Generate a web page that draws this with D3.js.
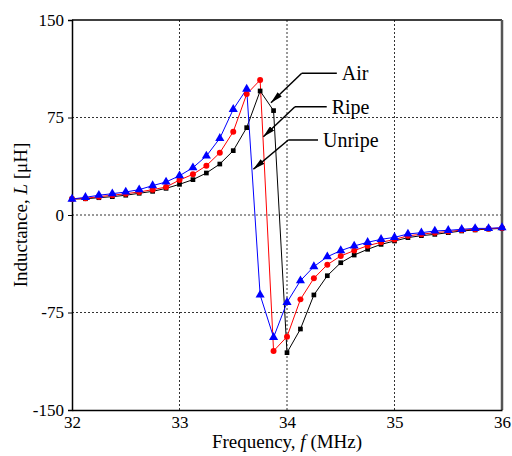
<!DOCTYPE html>
<html><head><meta charset="utf-8">
<script src="https://cdn.jsdelivr.net/npm/d3@7"></script>
<style>body{margin:0;background:#fff}svg{display:block}</style>
</head><body>
<svg id="c" width="512" height="456"></svg>
<script>
const freq = [32,32.125,32.25,32.375,32.5,32.625,32.75,32.875,33,33.125,33.25,33.375,33.5,33.625,33.75,33.875,34,34.125,34.25,34.375,34.5,34.625,34.75,34.875,35,35.125,35.25,35.375,35.5,35.625,35.75,35.875,36];
const air = [12.3,12.5,13.3,14.1,15.2,16.7,18.2,20.5,23.6,27.2,32.3,39.2,49.5,67.2,95.4,80.3,-105.9,-87.7,-61.5,-46.7,-36.7,-30.8,-26.4,-22.6,-20.0,-17.4,-15.9,-14.9,-13.6,-12.3,-11.5,-10.8,-10.3];
const ripe = [12.3,12.8,14.1,15.2,16.4,17.7,19.5,21.5,26.9,31.3,37.9,47.9,64.1,93.0,103.8,-104.6,-93.6,-64.9,-48.7,-38.2,-31.5,-27.4,-23.6,-21.0,-18.8,-16.0,-14.8,-13.6,-12.7,-11.6,-10.9,-10.5,-10.0];
const unripe = [12.3,13.6,15.2,16.4,17.7,19.5,22.6,25.4,30.2,36.4,45.4,59.0,81.3,96.9,-61.5,-94.1,-67.2,-50.5,-39.7,-32.1,-27.4,-23.8,-21.0,-18.7,-17.2,-14.6,-13.6,-12.3,-11.8,-11.0,-10.3,-10.3,-9.7];
const xTicks = [32,33,34,35,36];
const yTicks = [-150,-75,0,75,150];
const seriesNames = ["Air","Ripe","Unripe"];
// annotation anchors in data units
const annoTextX = [34.51,34.416,34.335];
const annoLineY = [109,83.3,57.7];
const annoLineStartX = [34.137,34.074,34.012];
const annoTipX = [33.851,33.78,33.687];
const annoTipY = [86.4,60.2,35.2];

const svg = d3.select("#c");
const m = {l:72,r:502,t:20,b:410};
const x = d3.scaleLinear().domain([32,36]).range([m.l,m.r]);
const y = d3.scaleLinear().domain([-150,150]).range([m.b,m.t]);
const font = "Liberation Serif, Times New Roman, serif";

// grid
const g = svg.append("g");
g.selectAll("line.gx").data(xTicks.slice(1,-1)).enter().append("line")
  .attr("x1",d=>x(d)).attr("x2",d=>x(d)).attr("y1",m.t).attr("y2",m.b)
  .attr("stroke","#333").attr("stroke-width",1).attr("stroke-dasharray","2,2");
g.selectAll("line.gy").data(yTicks.slice(1,-1)).enter().append("line")
  .attr("y1",d=>y(d)).attr("y2",d=>y(d)).attr("x1",m.l).attr("x2",m.r)
  .attr("stroke","#333").attr("stroke-width",1).attr("stroke-dasharray","2,2");

// frame
svg.append("line").attr("x1",m.l).attr("x2",m.r).attr("y1",m.t).attr("y2",m.t).attr("stroke","#000").attr("stroke-width",1.5);
svg.append("line").attr("x1",m.r).attr("x2",m.r).attr("y1",m.t).attr("y2",m.b).attr("stroke","#555").attr("stroke-width",2.5);

// axes
const fmt = d=>String(d);
const xa = svg.append("g").attr("transform",`translate(0,${m.b})`)
  .call(d3.axisBottom(x).tickValues(xTicks).tickSize(0).tickPadding(6).tickFormat(fmt));
const ya = svg.append("g").attr("transform",`translate(${m.l},0)`)
  .call(d3.axisLeft(y).tickValues(yTicks).tickSize(4).tickPadding(4).tickFormat(fmt));
[xa,ya].forEach(a=>{
  a.select(".domain").attr("stroke","#000").attr("stroke-width",1.5);
  a.selectAll(".tick line").attr("stroke","#000");
  a.selectAll("text").attr("font-family",font).attr("font-size",17).attr("fill","#000");
});

// series
const sets = [
  {v:air,c:"#000",m:"square"},
  {v:ripe,c:"#f00",m:"circle"},
  {v:unripe,c:"#00f",m:"triangle"}
];
const line = d3.line().x((d,i)=>x(freq[i])).y(d=>y(d));
sets.forEach(s=>{
  svg.append("path").attr("d",line(s.v)).attr("fill","none").attr("stroke",s.c).attr("stroke-width",1);
});
sets.forEach(s=>{
  let sym, size;
  if(s.m==="square"){sym=d3.symbolSquare;size=22;}
  else if(s.m==="circle"){sym=d3.symbolCircle;size=28;}
  else {sym=d3.symbolTriangle;size=36;}
  svg.append("g").selectAll("path").data(s.v).enter().append("path")
    .attr("d",d3.symbol().type(sym).size(size))
    .attr("transform",(d,i)=>`translate(${x(freq[i])},${y(d)})`)
    .attr("fill",s.c);
});

// annotations
svg.append("defs").append("marker").attr("id","ah").attr("viewBox","0 0 12 6")
  .attr("refX",12).attr("refY",3).attr("markerWidth",12).attr("markerHeight",6)
  .attr("markerUnits","userSpaceOnUse").attr("orient","auto")
  .append("path").attr("d","M0,0L12,3L0,6Z").attr("fill","#000");
seriesNames.forEach((n,i)=>{
  const ly = y(annoLineY[i]);
  svg.append("line").attr("x1",x(annoLineStartX[i])).attr("x2",x(annoTextX[i])-5)
    .attr("y1",ly).attr("y2",ly).attr("stroke","#000").attr("stroke-width",1.5);
  svg.append("line").attr("x1",x(annoLineStartX[i])).attr("y1",ly)
    .attr("x2",x(annoTipX[i])).attr("y2",y(annoTipY[i]))
    .attr("stroke","#000").attr("stroke-width",1.5).attr("marker-end","url(#ah)");
  svg.append("text").attr("x",x(annoTextX[i])).attr("y",ly).attr("dy","0.35em")
    .attr("font-family",font).attr("font-size",20).text(n);
});

// axis titles
const xt = svg.append("text").attr("x",(m.l+m.r)/2).attr("y",448).attr("text-anchor","middle")
  .attr("font-family",font).attr("font-size",19);
xt.append("tspan").text("Frequency, ");
xt.append("tspan").attr("font-style","italic").text("f");
xt.append("tspan").text(" (MHz)");
const yt = svg.append("text").attr("transform",`translate(27,${(m.t+m.b)/2}) rotate(-90)`).attr("text-anchor","middle")
  .attr("font-family",font).attr("font-size",19);
yt.append("tspan").text("Inductance, ");
yt.append("tspan").attr("font-style","italic").text("L");
yt.append("tspan").text(" [μH]");
</script>
</body></html>
